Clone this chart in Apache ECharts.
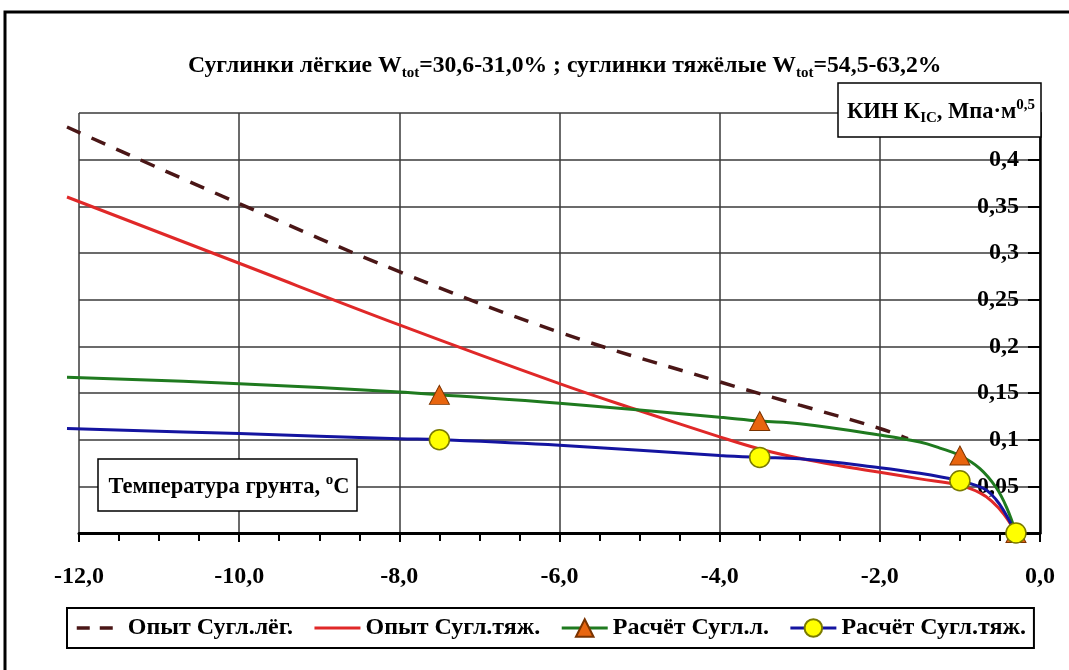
<!DOCTYPE html>
<html>
<head>
<meta charset="utf-8">
<script src="https://cdn.jsdelivr.net/npm/echarts@6/dist/echarts.min.js"></script>
<style>
html,body{margin:0;padding:0;background:#fff;}
#chart{width:1069px;height:670px;}
</style>
</head>
<body>
<div id="chart"></div>
<script>
// ---- data ----
const xTickLabels = ['-12,0', '-10,0', '-8,0', '-6,0', '-4,0', '-2,0', '0,0'];
const yTickLabels = ['0', '0,05', '0,1', '0,15', '0,2', '0,25', '0,3', '0,35', '0,4', ''];

const seriesNames = ['Опыт Сугл.лёг.', 'Опыт Сугл.тяж.', 'Расчёт Сугл.л.', 'Расчёт Сугл.тяж.'];

const lightExpX = [-12.15, -10, -8, -6, -4, -3, -2, -1.65];
const lightExpY = [0.435, 0.353, 0.280, 0.215, 0.162, 0.137, 0.112, 0.101];

const heavyExpX = [-12.15, -10, -8, -6, -5, -4, -3.5, -3, -2.5, -2, -1.5, -1, -0.75, -0.6, -0.45, -0.3];
const heavyExpY = [0.360, 0.289, 0.223, 0.160, 0.131, 0.103, 0.090, 0.080, 0.072, 0.065, 0.058, 0.051, 0.043, 0.034, 0.020, 0.0];

const lightCalcX = [-12.15, -10, -8, -7.5, -6, -4, -3.5, -3, -2, -1.5, -1.25, -1, -0.75, -0.55, -0.42, -0.3];
const lightCalcY = [0.167, 0.160, 0.151, 0.148, 0.139, 0.124, 0.120, 0.117, 0.105, 0.0975, 0.091, 0.083, 0.069, 0.049, 0.028, 0.0];

const heavyCalcX = [-12.15, -10, -8, -7.5, -6, -4, -3.5, -3, -2, -1.5, -1, -0.8, -0.67, -0.55, -0.46, -0.3];
const heavyCalcY = [0.112, 0.1065, 0.101, 0.100, 0.094, 0.083, 0.081, 0.0795, 0.070, 0.064, 0.056, 0.051, 0.046, 0.036, 0.025, 0.0];

const markerX = [-7.5, -3.5, -1, -0.3];

// ---- helpers ----
const FONT = "'Liberation Serif', 'Times New Roman', serif";
function pairs(xs, ys) { return xs.map((x, i) => [x, ys[i]]); }
function withMarkers(xs, ys) {
  return xs.map((x, i) => markerX.indexOf(x) >= 0 ? { value: [x, ys[i]] } : { value: [x, ys[i]], symbol: 'none' });
}

const chart = echarts.init(document.getElementById('chart'), null, { renderer: 'canvas' });

// grid 0: visible axes (-12..0); grid 1: same scale, extended to the first data point (-12.15)
const option = {
  backgroundColor: '#ffffff',
  animation: false,
  grid: [
    { left: 79, right: 29, top: 113, bottom: 137, containLabel: false },
    { left: 67, right: 29, top: 113, bottom: 137, containLabel: false }
  ],
  title: [{
    left: 183, top: 46,
    text: '{a|Суглинки лёгкие W}{s|tot}{a|=30,6-31,0% ; суглинки тяжёлые W}{s|tot}{a|=54,5-63,2%}',
    textStyle: {
      rich: {
        a: { fontFamily: FONT, fontWeight: 'bold', fontSize: 23.7, color: '#000', lineHeight: 30 },
        s: { fontFamily: FONT, fontWeight: 'bold', fontSize: 15, color: '#000', lineHeight: 16, verticalAlign: 'bottom' }
      }
    }
  }],
  legend: {
    left: 67, top: 608,
    data: [
      { name: seriesNames[0], itemStyle: { opacity: 0 }, lineStyle: { type: [13, 10], width: 3.5, color: '#4a1616' } },
      { name: seriesNames[1], itemStyle: { opacity: 0 }, lineStyle: { width: 3 } },
      { name: seriesNames[2], lineStyle: { width: 3 } },
      { name: seriesNames[3], lineStyle: { width: 3 } }
    ],
    borderColor: '#000', borderWidth: 2,
    padding: [8, 8, 8, 8],
    itemGap: 20,
    itemWidth: 46, itemHeight: 22,
    textStyle: { fontFamily: FONT, fontWeight: 'bold', fontSize: 24, color: '#000' }
  },
  xAxis: [{
    gridIndex: 0, type: 'value', min: -12, max: 0, interval: 2,
    axisLine: { show: true, onZero: true, lineStyle: { color: '#000', width: 3 } },
    axisTick: { show: true, length: 9, lineStyle: { color: '#000', width: 2 } },
    minorTick: { show: true, splitNumber: 4, length: 8, lineStyle: { color: '#000', width: 2 } },
    axisLabel: {
      margin: 32, color: '#000', fontFamily: FONT, fontWeight: 'bold', fontSize: 24,
      formatter: v => xTickLabels[Math.round((v + 12) / 2)]
    },
    splitLine: { show: true, lineStyle: { color: '#3a3a3a', width: 1.5 } }
  }, {
    gridIndex: 1, type: 'value', min: -12.15, max: 0, show: false
  }],
  yAxis: [{
    gridIndex: 0, type: 'value', position: 'right', min: 0, max: 0.45, interval: 0.05,
    axisLine: { show: true, lineStyle: { color: '#000', width: 2.5 } },
    axisTick: { show: true, inside: true, length: 12, lineStyle: { color: '#000', width: 2 } },
    axisLabel: {
      inside: true, margin: 21, color: '#000', fontFamily: FONT, fontWeight: 'bold', fontSize: 24,
      formatter: v => yTickLabels[Math.round(v / 0.05)]
    },
    splitLine: { show: true, lineStyle: { color: '#3a3a3a', width: 1.5 } }
  }, {
    gridIndex: 1, type: 'value', min: 0, max: 0.45, show: false
  }],
  series: [
    {
      name: seriesNames[0], type: 'line', xAxisIndex: 1, yAxisIndex: 1, clip: false, symbol: 'none',
      smooth: 0.4,
      lineStyle: { color: '#4a1616', width: 3.5, type: [15, 12] },
      itemStyle: { color: '#4a1616' },
      data: pairs(lightExpX, lightExpY), z: 3
    },
    {
      name: seriesNames[1], type: 'line', xAxisIndex: 1, yAxisIndex: 1, clip: false, symbol: 'none',
      smooth: 0.4,
      lineStyle: { color: '#e02828', width: 3 },
      itemStyle: { color: '#e02828' },
      data: pairs(heavyExpX, heavyExpY), z: 3
    },
    {
      name: seriesNames[2], type: 'line', xAxisIndex: 1, yAxisIndex: 1, clip: false,
      symbol: 'triangle', symbolSize: [20, 19],
      showSymbol: true, smooth: 0.4,
      lineStyle: { color: '#1f7a1f', width: 3 },
      itemStyle: { color: '#e8650f', borderColor: '#7a3300', borderWidth: 1 },
      data: withMarkers(lightCalcX, lightCalcY), z: 4
    },
    {
      name: seriesNames[3], type: 'line', xAxisIndex: 1, yAxisIndex: 1, clip: false,
      symbol: 'circle', symbolSize: 20,
      showSymbol: true, smooth: 0.4,
      lineStyle: { color: '#1414a0', width: 3 },
      itemStyle: { color: '#ffff00', borderColor: '#7a7a00', borderWidth: 1.5 },
      data: withMarkers(heavyCalcX, heavyCalcY), z: 5
    }
  ],
  graphic: [
    { type: 'rect', z: 100, shape: { x: 5, y: 12, width: 1100, height: 700 },
      style: { fill: 'none', stroke: '#000', lineWidth: 3 } },
    { type: 'rect', z: 100, shape: { x: 838, y: 83, width: 203, height: 54 },
      style: { fill: '#fff', stroke: '#000', lineWidth: 1.5 } },
    { type: 'text', z: 101, x: 941, y: 112,
      style: {
        text: '{a|КИН К}{s|IC}{a|, Мпа·м}{p|0,5}',
        textAlign: 'center', textVerticalAlign: 'middle',
        rich: {
          a: { fontFamily: FONT, fontWeight: 'bold', fontSize: 22.5, fill: '#000', lineHeight: 28 },
          s: { fontFamily: FONT, fontWeight: 'bold', fontSize: 15, fill: '#000', lineHeight: 15, verticalAlign: 'bottom' },
          p: { fontFamily: FONT, fontWeight: 'bold', fontSize: 15, fill: '#000', lineHeight: 15, verticalAlign: 'top' }
        }
      } },
    { type: 'rect', z: 100, shape: { x: 98, y: 459, width: 259, height: 52 },
      style: { fill: '#fff', stroke: '#000', lineWidth: 1.5 } },
    { type: 'text', z: 101, x: 229, y: 487,
      style: {
        text: '{a|Температура грунта, }{p|o}{a|C}',
        textAlign: 'center', textVerticalAlign: 'middle',
        rich: {
          a: { fontFamily: FONT, fontWeight: 'bold', fontSize: 22.5, fill: '#000', lineHeight: 28 },
          p: { fontFamily: FONT, fontWeight: 'bold', fontSize: 15, fill: '#000', lineHeight: 15, verticalAlign: 'top' }
        }
      } }
  ]
};
chart.setOption(option);
</script>
</body>
</html>
